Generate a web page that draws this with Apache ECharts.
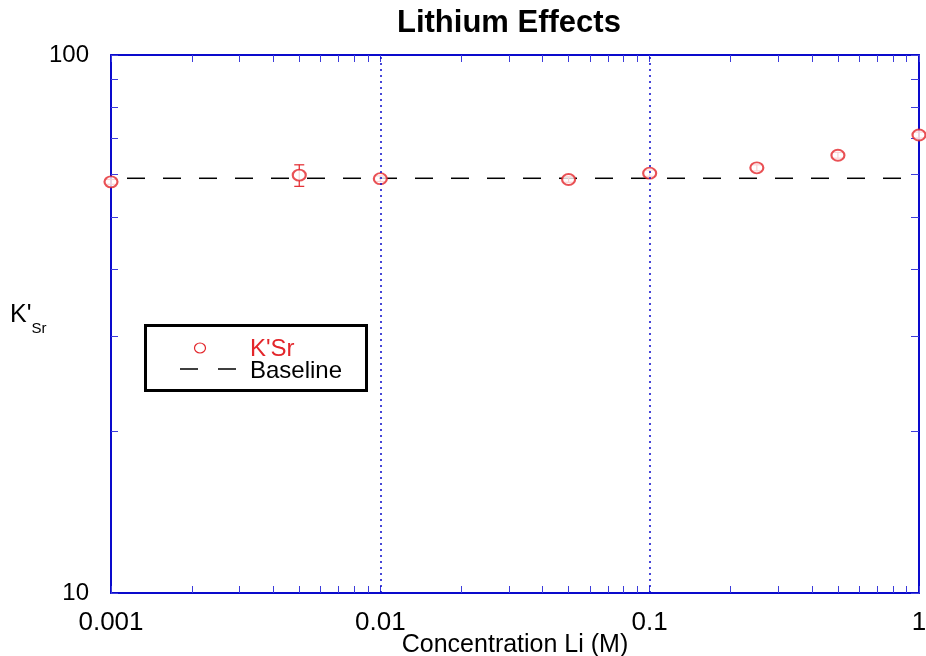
<!DOCTYPE html>
<html>
<head>
<meta charset="utf-8">
<script src="https://cdn.jsdelivr.net/npm/echarts@6/dist/echarts.min.js"></script>
<style>
html,body{margin:0;padding:0;background:#fff;}
#chart{width:926px;height:656px;}
</style>
</head>
<body>
<div id="chart"></div>
<script>
// ---- data ----
const concentrations = [0.001, 0.005, 0.01, 0.05, 0.1, 0.25, 0.5, 1.0];
const ksrValues      = [58.1, 59.8, 58.9, 58.7, 60.3, 61.7, 65.1, 71.0];
const errLow         = [57.5, 57.0, 58.2, 58.0, 59.5, 60.9, 64.3, 70.1];
const errHigh        = [58.7, 62.5, 59.6, 59.4, 61.1, 62.5, 65.9, 71.9];
const baselineX      = [0.001, 1];
const baselineY      = [59.0, 59.0];
const gridLinesX     = [0.01, 0.1];
const xTickLabels    = ['0.001', '0.01', '0.1', '1'];
const yTickLabels    = ['10', '100'];
const xTickValues    = [0.001,0.002,0.003,0.004,0.005,0.006,0.007,0.008,0.009,
                        0.01,0.02,0.03,0.04,0.05,0.06,0.07,0.08,0.09,
                        0.1,0.2,0.3,0.4,0.5,0.6,0.7,0.8,0.9,1];
const yTickValues    = [10,20,30,40,50,60,70,80,90,100];
const titleText = 'Lithium Effects';
const xAxisTitle = 'Concentration Li (M)';
const seriesNames = ["K'Sr", 'Baseline'];

// ---- styling ----
const AXIS_BLUE = '#0a0acc';
const TICK_BLUE = '#3c3cdc';
const RED = '#e3262b';
const FONT = '"Liberation Sans", Arial, sans-serif';

const chart = echarts.init(document.getElementById('chart'), null, {renderer: 'canvas'});

const baseAxis = {
  type: 'log', logBase: 10,
  axisLine: {show: true, lineStyle: {color: AXIS_BLUE, width: 2}},
  splitLine: {show: false},
  minorTick: {show: false},
  minorSplitLine: {show: false}
};

const option = {
  animation: false,
  backgroundColor: '#fff',
  title: {
    text: titleText,
    left: 397, top: 8, padding: 0,
    textStyle: {fontFamily: FONT, fontSize: 31, fontWeight: 'bold', color: '#000'}
  },
  grid: {left: 111, right: 7, top: 55, bottom: 63, containLabel: false, outerBoundsMode: 'none'},
  xAxis: [
    Object.assign({}, baseAxis, {
      min: 0.001, max: 1, position: 'bottom',
      axisTick: {show: true, inside: true, length: 7, customValues: xTickValues,
                 lineStyle: {color: TICK_BLUE, width: 1}},
      axisLabel: {show: true, fontFamily: FONT, fontSize: 26, color: '#000', margin: 17,
                  showMinLabel: true, showMaxLabel: true,
                  formatter: v => xTickLabels[Math.round(Math.log10(v)) + 3]},
      name: xAxisTitle, nameLocation: 'middle', nameGap: 40, nameMoveOverlap: false,
      nameTextStyle: {fontFamily: FONT, fontSize: 25, color: '#000', verticalAlign: 'top'}
    }),
    Object.assign({}, baseAxis, {
      min: 0.001, max: 1, position: 'top',
      axisTick: {show: true, inside: true, length: 7, customValues: xTickValues,
                 lineStyle: {color: TICK_BLUE, width: 1}},
      axisLabel: {show: false}
    })
  ],
  yAxis: [
    Object.assign({}, baseAxis, {
      min: 10, max: 100, position: 'left',
      axisTick: {show: true, inside: true, length: 7, customValues: yTickValues,
                 lineStyle: {color: TICK_BLUE, width: 1}},
      axisLabel: {show: true, fontFamily: FONT, fontSize: 24, color: '#000', margin: 22,
                  showMinLabel: true, showMaxLabel: true,
                  formatter: v => yTickLabels[Math.round(Math.log10(v)) - 1]}
    }),
    Object.assign({}, baseAxis, {
      min: 10, max: 100, position: 'right',
      axisTick: {show: true, inside: true, length: 8, customValues: yTickValues,
                 lineStyle: {color: TICK_BLUE, width: 1}},
      axisLabel: {show: false}
    })
  ],
  series: [
    {
      name: seriesNames[1], type: 'line', xAxisIndex: 0, yAxisIndex: 0,
      data: baselineX.map((x, i) => [x, baselineY[i]]),
      showSymbol: false, symbol: 'none', silent: true,
      lineStyle: {color: '#000', width: 1.5, type: [18, 18], dashOffset: -16},
      markLine: {
        silent: true, symbol: 'none', label: {show: false},
        lineStyle: {color: AXIS_BLUE, type: [2, 4], width: 1.5},
        data: gridLinesX.map(x => ({xAxis: x}))
      },
      z: 2
    },
    {
      name: 'errors', type: 'custom', xAxisIndex: 0, yAxisIndex: 0,
      data: concentrations.map((x, i) => [x, errLow[i], errHigh[i]]),
      encode: {x: 0, y: [1, 2]},
      clip: false, silent: true,
      renderItem: function (params, api) {
        const x = api.value(0);
        const lo = api.coord([x, api.value(1)]);
        const hi = api.coord([x, api.value(2)]);
        const w = 5;
        const st = {stroke: RED, lineWidth: 1.2};
        return {type: 'group', children: [
          {type: 'line', shape: {x1: lo[0], y1: lo[1], x2: hi[0], y2: hi[1]}, style: st},
          {type: 'line', shape: {x1: lo[0] - w, y1: lo[1], x2: lo[0] + w, y2: lo[1]}, style: st},
          {type: 'line', shape: {x1: hi[0] - w, y1: hi[1], x2: hi[0] + w, y2: hi[1]}, style: st}
        ]};
      },
      z: 3
    },
    {
      name: seriesNames[0], type: 'scatter', xAxisIndex: 0, yAxisIndex: 0,
      data: concentrations.map((x, i) => [x, ksrValues[i]]),
      symbol: 'emptyCircle', symbolSize: [13, 11], clip: false,
      itemStyle: {color: RED, borderColor: RED, borderWidth: 1.3},
      z: 4
    }
  ],
  graphic: [
    // y-axis title K'Sr
    {
      type: 'text', left: 10, top: 303, z: 10,
      style: {
        text: "{k|K'}{s|Sr}",
        rich: {
          k: {fontFamily: FONT, fontSize: 25, fill: '#000', verticalAlign: 'top'},
          s: {fontFamily: FONT, fontSize: 15, fill: '#000', padding: [18, 0, 0, 0]}
        }
      }
    },
    // legend box
    {
      type: 'group', left: 144, top: 324, z: 20,
      children: [
        {type: 'rect', shape: {x: 1.5, y: 1.5, width: 221, height: 65},
         style: {fill: '#fff', stroke: '#000', lineWidth: 3}},
        {type: 'ellipse', shape: {cx: 56, cy: 24, rx: 5.5, ry: 5},
         style: {fill: 'none', stroke: RED, lineWidth: 1.2}},
        {type: 'text', x: 106, y: 25,
         style: {text: seriesNames[0], fill: RED, fontFamily: FONT, fontSize: 24, verticalAlign: 'middle'}},
        {type: 'line', shape: {x1: 36, y1: 45, x2: 92, y2: 45},
         style: {stroke: '#000', lineWidth: 1.5, lineDash: [18, 20]}},
        {type: 'text', x: 106, y: 47,
         style: {text: seriesNames[1], fill: '#000', fontFamily: FONT, fontSize: 24, verticalAlign: 'middle'}}
      ]
    }
  ]
};

chart.setOption(option);
</script>
</body>
</html>
